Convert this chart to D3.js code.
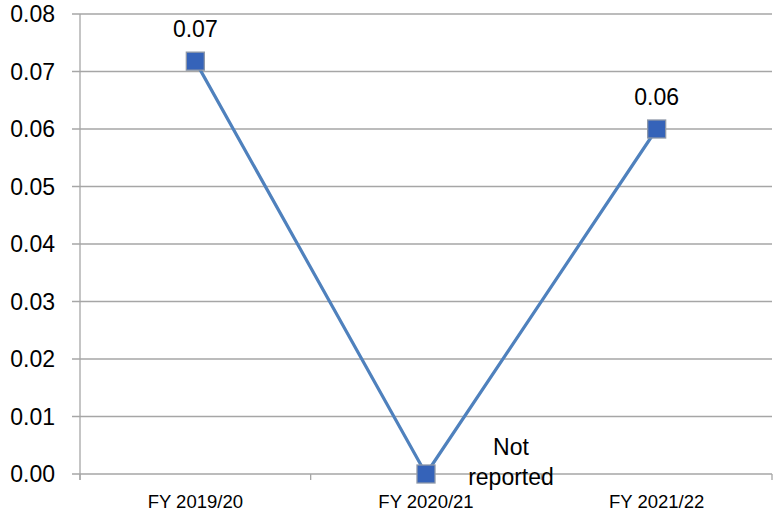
<!DOCTYPE html>
<html>
<head>
<meta charset="utf-8">
<script src="https://cdn.jsdelivr.net/npm/d3@7"></script>
<style>
  html, body { margin: 0; padding: 0; background: #fff; }
  svg { display: block; }
  text { font-family: "Liberation Sans", Arial, sans-serif; fill: #000; }
</style>
</head>
<body>
<svg id="chart" width="774" height="517"></svg>
<script>
// Fiscal years along the x axis
const categories = ["FY 2019/20", "FY 2020/21", "FY 2021/22"];
// Reported values (the middle year was not reported and sits on the baseline)
const values = [0.0718, 0, 0.06];
// Text shown beside each point
const pointLabels = [null, ["Not", "reported"], null];
// Y axis ticks
const yTicks = [0, 0.01, 0.02, 0.03, 0.04, 0.05, 0.06, 0.07, 0.08];

const svg = d3.select("#chart");
const margin = { left: 80, right: 2, top: 14, bottom: 43 };
const W = 774, H = 517;

const x = d3.scaleBand().domain(categories).range([margin.left, W - margin.right]);
const y = d3.scaleLinear().domain([0, 0.08]).range([H - margin.bottom, margin.top]);

const gridColor = "#a6a6a6";

// Horizontal gridlines with small outside ticks on the left
svg.append("g").selectAll("line").data(yTicks).join("line")
  .attr("x1", margin.left - 8).attr("x2", W - margin.right)
  .attr("y1", d => y(d)).attr("y2", d => y(d))
  .attr("stroke", gridColor).attr("stroke-width", 1.3);

// Vertical axis line
svg.append("line")
  .attr("x1", margin.left).attr("x2", margin.left)
  .attr("y1", y(0.08)).attr("y2", y(0) + 6)
  .attr("stroke", gridColor).attr("stroke-width", 1.3);

// Category boundary ticks below the baseline
const bounds = categories.map(c => x(c)).concat([x(categories[categories.length - 1]) + x.bandwidth()]);
svg.append("g").selectAll("line").data(bounds).join("line")
  .attr("x1", d => d).attr("x2", d => d)
  .attr("y1", y(0)).attr("y2", y(0) + 6)
  .attr("stroke", gridColor).attr("stroke-width", 1.3);

// Y tick labels
svg.append("g").selectAll("text").data(yTicks).join("text")
  .attr("x", 55).attr("y", d => y(d))
  .attr("text-anchor", "end").attr("dominant-baseline", "central")
  .style("font-size", "23px")
  .text(d => d3.format(".2f")(d));

// X category labels
svg.append("g").selectAll("text").data(categories).join("text")
  .attr("x", d => x(d) + x.bandwidth() / 2).attr("y", 508)
  .attr("text-anchor", "middle")
  .style("font-size", "18.5px")
  .text(d => d);

const pts = categories.map((c, i) => ({ c, v: values[i], label: pointLabels[i] }));
const cx = d => x(d.c) + x.bandwidth() / 2;

// Series line
svg.append("path")
  .datum(pts)
  .attr("fill", "none")
  .attr("stroke", "#4f81bd")
  .attr("stroke-width", 3.2)
  .attr("stroke-linejoin", "round")
  .attr("d", d3.line().x(cx).y(d => y(d.v)));

// Square markers
const ms = 18;
svg.append("g").selectAll("rect").data(pts).join("rect")
  .attr("x", d => cx(d) - ms / 2).attr("y", d => y(d.v) - ms / 2)
  .attr("width", ms).attr("height", ms)
  .attr("fill", "#3563b9").attr("stroke", "#8e98a8").attr("stroke-width", 1.3);

// Data labels: value above the point, or text to the right when not reported
pts.forEach(d => {
  if (d.label) {
    const t = svg.append("text")
      .attr("x", cx(d) + 85).attr("y", y(d.v) - 19)
      .attr("text-anchor", "middle")
      .style("font-size", "23px");
    d.label.forEach((s, i) => t.append("tspan").attr("x", cx(d) + 85).attr("dy", i ? 30 : 0).text(s));
  } else {
    svg.append("text")
      .attr("x", cx(d)).attr("y", y(d.v) - 24)
      .attr("text-anchor", "middle")
      .style("font-size", "23px")
      .text(d3.format(".2f")(d.v));
  }
});
</script>
</body>
</html>
